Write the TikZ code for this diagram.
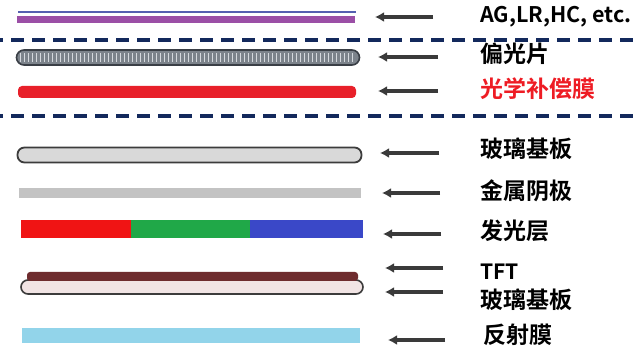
\documentclass[tikz,border=0pt]{standalone}
\usepackage{fontspec}
\newfontfamily\cjk{Noto Sans CJK SC Bold}
\usetikzlibrary{arrows.meta}
\definecolor{navy}{HTML}{13295C}
\definecolor{arrowgray}{HTML}{3A3A3A}
\definecolor{purplebar}{HTML}{9B4FA6}
\definecolor{bluethin}{HTML}{5560B0}
\definecolor{polfill}{HTML}{7C838B}
\definecolor{polline}{HTML}{3A3F46}
\definecolor{stripe}{HTML}{D5D9DE}
\definecolor{redbar}{HTML}{E8202A}
\definecolor{glassfill}{HTML}{D9D9D9}
\definecolor{glassline}{HTML}{3C3C3C}
\definecolor{metal}{HTML}{C3C3C3}
\definecolor{rgbR}{HTML}{F01414}
\definecolor{rgbG}{HTML}{20A848}
\definecolor{rgbB}{HTML}{3A48C8}
\definecolor{tftbrown}{HTML}{6E2C2E}
\definecolor{tftglass}{HTML}{F1E4E4}
\definecolor{reflect}{HTML}{92D4EA}
\definecolor{labred}{HTML}{EE1C24}
\begin{document}
\begin{tikzpicture}[x=1pt,y=-1pt,
  layer/.style={draw=none,inner sep=0pt,outer sep=0pt},
  lab/.style={anchor=west,inner sep=0pt,font=\cjk\fontsize{23}{23}\selectfont,text height=0.78em,text depth=0.12em,text=black},
  pointer/.style={draw=arrowgray,line width=3.2pt,-{Latex[length=9pt,width=10pt]}},
  sep/.style={draw=navy,line width=4pt,dash pattern=on 13pt off 8pt,dash phase=10pt}
]
\useasboundingbox[fill=white] (0,0) rectangle (641,358);

% separators
\coordinate (s1a) at (0,40.5); \coordinate (s1b) at (641,40.5);
\coordinate (s2a) at (0,116); \coordinate (s2b) at (641,116);
\draw[sep] (s1a) -- (s1b);
\draw[sep] (s2a) -- (s2b);

% layers
\node[layer,fill=bluethin,minimum width=338pt,minimum height=2pt] (agthin) at (187,12.5) {};
\node[layer,fill=purplebar,minimum width=338pt,minimum height=6.5pt] (ag) at (186,19.5) {};

\node[layer,fill=polfill,draw=polline,line width=1.6pt,rounded corners=7.5pt,
  minimum width=343pt,minimum height=15pt,
  path picture={\foreach \i in {1,...,84}{
     \draw[stripe,line width=1.7pt]
       ([xshift=\i*4pt,yshift=-3pt]path picture bounding box.north west) --
       ([xshift=\i*4pt,yshift=3pt]path picture bounding box.south west);}}
  ] (pol) at (188,57.5) {};

\node[layer,fill=redbar,rounded corners=4pt,minimum width=338pt,minimum height=12pt] (comp) at (187,92) {};

\node[layer,fill=glassfill,draw=glassline,line width=1.8pt,rounded corners=7pt,minimum width=344pt,minimum height=15pt] (glass1) at (189.5,155) {};

\node[layer,fill=metal,minimum width=342pt,minimum height=10pt] (metal) at (190,193) {};

\node[layer,fill=rgbR,minimum width=110pt,minimum height=18pt] (emR) at (76,229) {};
\node[layer,fill=rgbG,minimum width=119pt,minimum height=18pt] (emG) at (190.5,229) {};
\node[layer,fill=rgbB,minimum width=113pt,minimum height=18pt] (emB) at (306.5,229) {};

\node[layer,fill=tftglass,draw=glassline,line width=1.6pt,rounded corners=7pt,minimum width=342pt,minimum height=14pt] (glass2) at (192,287) {};
\node[layer,fill=tftbrown,rounded corners=3pt,minimum width=331pt,minimum height=9pt] (tft) at (192.5,276.5) {};

\node[layer,fill=reflect,minimum width=338pt,minimum height=15pt] (refl) at (191,335.5) {};

% labels
\node[lab,font=\cjk\fontsize{21.5}{21.5}\selectfont] (tag) at (480,19) {AG,LR,HC, etc.};
\node[lab] (tpol) at (480,59) {偏光片};
\node[lab,text=labred] (tcomp) at (480,94) {光学补偿膜};
\node[lab] (tglass1) at (480,154) {玻璃基板};
\node[lab] (tmetal) at (480,196) {金属阴极};
\node[lab] (tem) at (480,236) {发光层};
\node[lab,font=\cjk\fontsize{21}{21}\selectfont] (ttft) at (480,276) {TFT};
\node[lab] (tglass2) at (480,305) {玻璃基板};
\node[lab] (trefl) at (483,340) {反射膜};

% arrow ends
\coordinate (a1t) at (433,17);  \coordinate (a1h) at (375,17);
\coordinate (a2t) at (438,57);  \coordinate (a2h) at (378,57);
\coordinate (a3t) at (438,91);  \coordinate (a3h) at (378,91);
\coordinate (a4t) at (439,153); \coordinate (a4h) at (380,153);
\coordinate (a5t) at (440,193); \coordinate (a5h) at (382,193);
\coordinate (a6t) at (441,234); \coordinate (a6h) at (383,234);
\coordinate (a7t) at (443,268); \coordinate (a7h) at (385,268);
\coordinate (a8t) at (443,292); \coordinate (a8h) at (385,292);
\coordinate (a9t) at (445,340); \coordinate (a9h) at (388,340);
\foreach \k in {1,...,9}{\draw[pointer] (a\k t) -- (a\k h);}
\end{tikzpicture}
\end{document}
